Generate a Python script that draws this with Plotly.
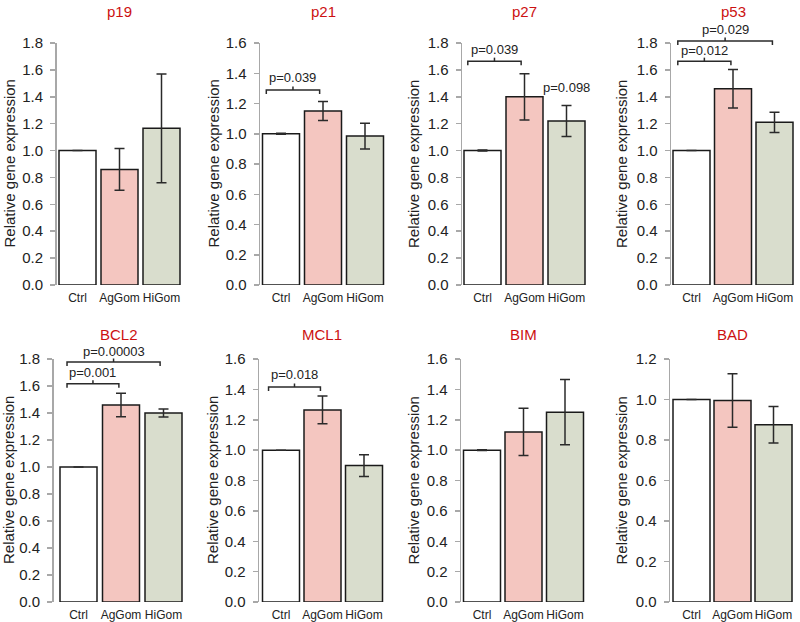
import plotly.graph_objects as go

# ---------------- data ----------------
groups = ["Ctrl", "AgGom", "HiGom"]
genes = ["p19", "p21", "p27", "p53", "BCL2", "MCL1", "BIM", "BAD"]

p19_mean = [1.0, 0.86, 1.165]
p19_err = [0.0, 0.155, 0.405]
p21_mean = [1.0, 1.15, 0.985]
p21_err = [0.004, 0.063, 0.085]
p27_mean = [1.0, 1.40, 1.22]
p27_err = [0.004, 0.172, 0.115]
p53_mean = [1.0, 1.46, 1.21]
p53_err = [0.0, 0.143, 0.075]
bcl2_mean = [1.0, 1.46, 1.40]
bcl2_err = [0.0, 0.087, 0.03]
mcl1_mean = [1.0, 1.265, 0.898]
mcl1_err = [0.0, 0.092, 0.071]
bim_mean = [1.0, 1.12, 1.25]
bim_err = [0.003, 0.155, 0.215]
bad_mean = [1.0, 0.995, 0.875]
bad_err = [0.0, 0.132, 0.09]

means = [p19_mean, p21_mean, p27_mean, p53_mean, bcl2_mean, mcl1_mean, bim_mean, bad_mean]
errs = [p19_err, p21_err, p27_err, p53_err, bcl2_err, mcl1_err, bim_err, bad_err]
y_max = [1.8, 1.6, 1.8, 1.8, 1.8, 1.6, 1.6, 1.2]

# significance brackets: (panel, from, to, y, label, label_y)
brackets = [
    (1, -0.35, 0.92, 1.29, "p=0.039", 1.375),
    (2, -0.35, 0.92, 1.665, "p=0.039", 1.75),
    (3, -0.33, 0.95, 1.665, "p=0.012", 1.742),
    (3, -0.33, 1.95, 1.815, "p=0.029", 1.897),
    (4, -0.27, 0.95, 1.617, "p=0.001", 1.698),
    (4, -0.27, 1.92, 1.778, "p=0.00003", 1.856),
    (5, -0.30, 0.95, 1.416, "p=0.018", 1.50),
]
# single labels: (panel, x, y, label)
single_labels = [(2, 2, 1.47, "p=0.098")]

# ---------------- styling / layout ----------------
W, H = 800, 622
bar_colors = ["#ffffff", "#f4c6c0", "#d9ddcd"]
title_red = "#cc1111"
axis_grey = "#a8a8a8"
FONT = "Liberation Sans, Arial, sans-serif"

# per-panel pixel geometry: (axis line x, ctrl centre x, category spacing)
geom = [
    (56.5, 77.5, 42), (260, 281, 42), (462, 482.5, 42), (671, 691.5, 41.5),
    (53.5, 78.5, 42.5), (259, 281, 41.5), (461, 482, 41.5), (670, 691.5, 41),
]
row_px = [(43, 285), (359, 602)]  # (top px, bottom px) of y range
title_y_px = [11, 334]
ytitle_x_px = [8.5, 212.5, 413, 621, 8.5, 212.5, 413, 621]

fig = go.Figure()
annotations = []
shapes = []
lay = {}

def py(p):
    return 1 - p / H

for i, g in enumerate(genes):
    n = "" if i == 0 else str(i + 1)
    row = 0 if i < 4 else 1
    ax_x, c0, sp = geom[i]
    right_px = c0 + 2.5 * sp
    x_lo = -(c0 - ax_x) / sp
    top_px, bot_px = row_px[row]
    dom_y = [py(bot_px), py(top_px)]
    bw = 37 / sp

    fig.add_trace(go.Bar(
        x=[0, 1, 2], y=means[i],
        width=[bw] * 3,
        marker=dict(color=bar_colors, line=dict(color="#1a1a1a", width=1.5)),
        error_y=dict(type="data", array=errs[i], visible=True,
                     color="#2a2a2a", thickness=1.5, width=5),
        xaxis="x" + n, yaxis="y" + n, showlegend=False, hoverinfo="skip",
    ))

    lay["xaxis" + n] = dict(
        domain=[ax_x / W, right_px / W], range=[x_lo, 2.5], anchor="y" + n,
        tickmode="array", tickvals=[0, 1, 2], ticktext=groups, tickangle=0,
        tickfont=dict(size=12, color="#222222", family=FONT),
        showline=False, showgrid=False, zeroline=False, ticks="",
        fixedrange=True, automargin=False, ticklabelstandoff=4,
    )
    lay["yaxis" + n] = dict(
        domain=dom_y, range=[0, y_max[i]], anchor="x" + n,
        tick0=0, dtick=0.2, tickformat=".1f",
        tickfont=dict(size=15, color="#222222", family=FONT),
        showline=True, linecolor=axis_grey, linewidth=1.5,
        ticks="outside", ticklen=5, tickcolor=axis_grey, tickwidth=1.5,
        showgrid=False, zeroline=False, fixedrange=True,
        ticklabelstandoff=4, automargin=False,
    )

    cx = (ax_x + right_px) / 2 / W
    annotations.append(dict(
        text=g, x=cx, y=py(title_y_px[row]), xref="paper", yref="paper",
        showarrow=False, xanchor="center", yanchor="middle",
        font=dict(size=15, color=title_red, family=FONT)))
    annotations.append(dict(
        text="Relative gene expression", x=ytitle_x_px[i] / W,
        y=(dom_y[0] + dom_y[1]) / 2, xref="paper", yref="paper",
        textangle=-90, showarrow=False, xanchor="center", yanchor="middle",
        font=dict(size=15, color="#222222", family=FONT)))

def to_paper_y(i, v):
    row = 0 if i < 4 else 1
    top_px, bot_px = row_px[row]
    b, t = py(bot_px), py(top_px)
    return b + v / y_max[i] * (t - b)

for (i, x0, x1, yv, lab, ly) in brackets:
    n = "" if i == 0 else str(i + 1)
    xr = "x" + n
    unit = y_max[i] / (row_px[0][1] - row_px[0][0])  # data per px
    yb = to_paper_y(i, yv)
    yd = to_paper_y(i, yv - 4 * unit)
    yu = to_paper_y(i, yv + 3.5 * unit)
    xm = (x0 + x1) / 2
    ln = dict(color="#2a2a2a", width=1.5)
    shapes.append(dict(type="path", xref=xr, yref="paper",
                       path=f"M {x0},{yd} L {x0},{yb} L {x1},{yb} L {x1},{yd}",
                       line=ln))
    shapes.append(dict(type="line", xref=xr, yref="paper",
                       x0=xm, x1=xm, y0=yb, y1=yu, line=ln))
    annotations.append(dict(text=lab, x=xm, y=to_paper_y(i, ly), xref=xr,
                            yref="paper", showarrow=False,
                            xanchor="center", yanchor="middle",
                            font=dict(size=13, color="#222222", family=FONT)))

for (i, xv, yv, lab) in single_labels:
    n = "" if i == 0 else str(i + 1)
    annotations.append(dict(text=lab, x=xv, y=to_paper_y(i, yv), xref="x" + n,
                            yref="paper", showarrow=False,
                            xanchor="center", yanchor="middle",
                            font=dict(size=13, color="#222222", family=FONT)))

fig.update_layout(
    width=W, height=H, margin=dict(l=0, r=0, t=0, b=0, autoexpand=False),
    paper_bgcolor="white", plot_bgcolor="white",
    annotations=annotations, shapes=shapes, showlegend=False,
    hovermode=False, font=dict(family=FONT), **lay,
)

fig.write_html(
    "out.html",
    config={"displayModeBar": False, "staticPlot": True},
    post_script="document.body.style.margin='0';document.body.style.overflow='hidden';",
)
